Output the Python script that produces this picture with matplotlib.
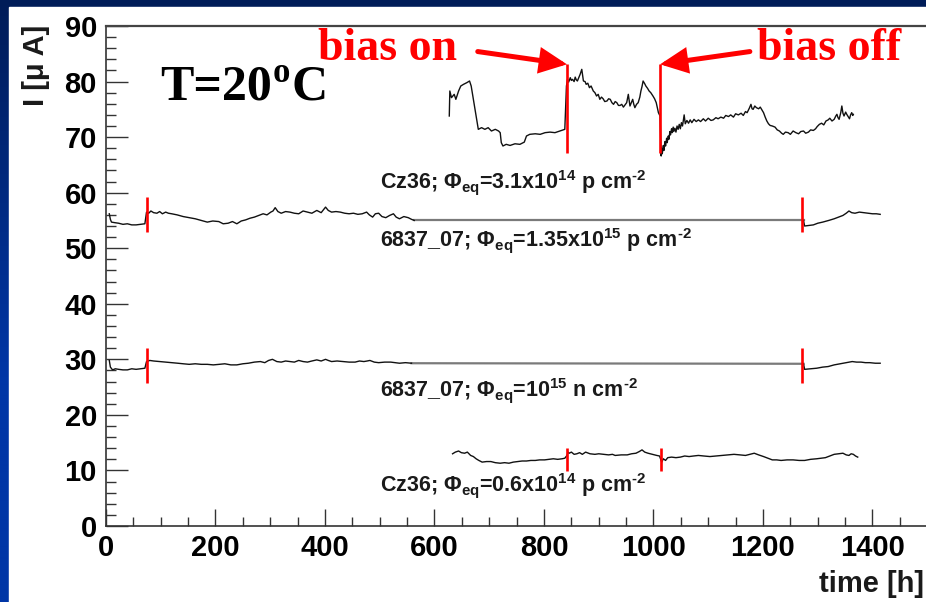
import numpy as np
import matplotlib
matplotlib.use("Agg")
import matplotlib.pyplot as plt
from matplotlib.patches import Rectangle
from matplotlib.ticker import MultipleLocator
from matplotlib.transforms import IdentityTransform

plt.rcParams["font.family"] = ["Liberation Sans", "DejaVu Sans"]
plt.rcParams["mathtext.default"] = "regular"

# ---------------------------------------------------------------- data
# Cz36, Phi_eq = 3.1e14 p/cm^2   (time [h], current [uA])
t_cz_hi = [627, 628, 631, 636, 639, 644, 648, 653, 659, 664,
           667, 671, 674, 677, 680, 686, 692, 698, 704, 711,
           717, 720, 722, 725, 731, 738, 747, 756, 764, 768,
           774, 784, 793, 802, 811, 820, 829, 838, 841,
           843, 845, 848, 850, 852, 855, 857, 859, 861, 863,
           866, 869, 872, 875, 877, 880, 883, 886, 890, 893,
           896, 899, 902, 905, 908, 911, 915, 918, 921, 924,
           927, 930, 933, 936, 939, 942, 945, 948, 951, 954,
           957, 960, 962, 964, 966, 969, 972, 975, 977, 979,
           981, 984, 986, 989, 992, 995, 999, 1002, 1005, 1007,
           1009, 1011, 1012,
           1014, 1015, 1016, 1018, 1019, 1021, 1022, 1024, 1025, 1027,
           1028, 1030, 1031, 1033, 1034, 1036, 1037, 1039, 1041, 1043,
           1045, 1047, 1049, 1051, 1053, 1056, 1058, 1061, 1064, 1067,
           1070, 1074, 1078, 1082, 1086, 1091, 1095, 1100, 1105, 1109,
           1114, 1118, 1123, 1128, 1132, 1137, 1141, 1146, 1150, 1155,
           1160, 1164, 1168, 1171, 1175, 1178, 1180, 1182, 1185, 1188,
           1192, 1195, 1198, 1201, 1204, 1207, 1210, 1213, 1217, 1222,
           1226, 1230, 1234, 1237, 1241, 1246, 1250, 1255, 1260, 1265,
           1269, 1274, 1278, 1283, 1287, 1292, 1296, 1299, 1303, 1307,
           1311, 1315, 1319, 1322, 1326, 1330, 1333, 1335, 1337, 1339,
           1342, 1344, 1346, 1348, 1351, 1353, 1356, 1358, 1360, 1362,
           1364, 1365]
i_cz_hi = [73.8, 78.3, 77.1, 77.7, 76.8, 78.3, 79.2, 79.5, 79.8, 80.1,
           79.2, 76.8, 75.0, 73.2, 71.4, 71.7, 71.4, 71.7, 71.1, 71.4,
           71.1, 70.8, 69.0, 68.4, 68.7, 68.5, 68.8, 68.7, 69.1, 70.2,
           70.5, 70.6, 70.5, 70.8, 70.9, 70.8, 71.1, 71.4, 79.2,
           80.4, 79.9, 80.7, 80.2, 80.4, 80.0, 80.8, 80.3, 80.1, 80.6,
           81.3, 82.2, 80.1, 80.0, 79.5, 79.7, 78.9, 79.2, 78.3, 78.0,
           77.4, 77.7, 76.8, 77.2, 76.9, 76.4, 76.5, 76.9, 76.8, 76.2,
           75.9, 76.4, 76.2, 75.7, 75.7, 75.9, 75.4, 75.8, 76.2, 77.7,
           75.6, 76.3, 76.8, 75.9, 75.3, 75.9, 76.2, 77.2, 78.3, 79.1,
           80.1, 79.6, 79.2, 78.8, 78.3, 78.0, 77.4, 76.9, 76.2, 75.3,
           74.4, 74.0, 73.8,
           66.6, 68.0, 67.0, 68.5, 67.6, 69.2, 68.4, 69.8, 69.0, 70.2,
           69.6, 71.0, 70.4, 71.5, 70.8, 71.8, 71.0, 71.6, 70.9, 72.0,
           71.4, 72.3, 71.5, 72.6, 72.0, 74.0, 72.4, 73.0, 72.5, 73.1,
           72.6, 73.2, 72.8, 73.1, 72.8, 73.3, 72.9, 73.4, 73.0, 73.1,
           73.5, 73.3, 73.6, 73.4, 73.9, 73.7, 74.0, 73.6, 74.2, 74.0,
           74.3, 73.9, 74.6, 74.4, 75.2, 75.9, 75.1, 75.0, 75.6, 75.3,
           75.1, 75.4, 74.9, 74.4, 73.6, 72.9, 72.4, 72.1, 72.0, 71.8,
           71.3, 71.1, 70.7, 70.5, 70.9, 70.8, 70.5, 71.1, 70.8, 70.6,
           71.0, 71.1, 70.7, 70.9, 71.3, 71.2, 71.5, 71.9, 72.3, 72.5,
           72.2, 72.9, 73.1, 73.4, 72.9, 73.2, 73.8, 74.1, 73.5, 73.2,
           74.4, 75.6, 74.3, 73.8, 74.5, 74.1, 73.6, 73.3, 74.0, 74.4,
           73.9, 74.1]

# 6837_07, Phi_eq = 1.35e15 p/cm^2
t_p135 = [6, 8, 10, 16, 23, 31, 39, 47, 55, 63, 71,
          74, 78, 82, 87, 93, 98, 103, 109, 114, 120,
          130, 141, 152, 163, 174, 185, 195, 206, 214, 223,
          231, 239, 247, 255, 263, 271, 279, 287, 294, 301,
          305, 309, 314, 320, 328, 336, 344, 352, 360, 368,
          376, 385, 393, 401, 406, 412, 420, 428, 436, 444,
          452, 460, 468, 476, 481, 487, 492, 498, 504, 511,
          518, 525, 530, 536, 544, 552, 558, 563,
          1274, 1276, 1284, 1292, 1300, 1309, 1320, 1330, 1338, 1346,
          1352, 1357, 1362, 1368, 1376, 1384, 1392, 1400, 1407, 1414]
i_p135 = [56.2, 55.2, 54.7, 54.6, 54.5, 54.3, 54.4, 54.2, 54.2, 54.3, 54.4,
          56.5, 56.3, 56.7, 56.4, 56.3, 56.6, 56.2, 56.5, 56.3, 56.2,
          56.0, 55.7, 55.5, 55.3, 55.0, 54.7, 54.9, 54.8, 54.4, 54.5,
          54.8, 54.4, 54.9, 55.1, 55.4, 55.6, 55.9, 56.2, 56.0, 56.5,
          56.7, 57.3, 56.6, 56.3, 56.6, 56.5, 56.3, 56.2, 56.7, 56.5,
          56.3, 56.8, 56.4, 57.4, 56.8, 56.5, 56.6, 56.5, 56.3, 56.2,
          56.3, 56.1, 56.2, 56.5, 56.0, 55.6, 56.2, 56.3, 55.7, 55.5,
          55.9, 56.2, 55.6, 55.3, 55.7, 55.5, 55.2, 55.0,
          55.0, 54.0, 54.1, 54.2, 54.5, 54.7, 55.0, 55.3, 55.6, 55.9,
          56.3, 56.7, 56.4, 56.3, 56.5, 56.4, 56.3, 56.2, 56.2, 56.1]

# 6837_07, Phi_eq = 1e15 n/cm^2
t_n1e15 = [6, 8, 12, 17, 23, 31, 39, 47, 55, 63, 71,
           74, 80, 87, 98, 109, 120, 131, 141, 152, 163,
           174, 185, 196, 207, 217, 228, 239, 250, 260, 271,
           282, 290, 297, 304, 312, 320, 328, 336, 344, 352,
           360, 368, 376, 385, 393, 401, 406, 412, 422, 433,
           444, 455, 463, 471, 477, 482, 490, 498, 509, 520,
           528, 536, 547, 558,
           1274, 1276, 1287, 1298, 1309, 1319, 1330, 1341, 1352, 1363,
           1371, 1379, 1387, 1395, 1405, 1414]
i_n1e15 = [29.8, 28.6, 28.1, 28.3, 28.2, 28.1, 28.1, 28.3, 28.2, 28.3, 28.4,
           29.6, 29.8, 29.7, 29.6, 29.5, 29.4, 29.3, 29.2, 29.1, 29.2,
           29.1, 29.1, 29.0, 29.1, 29.2, 29.0, 29.0, 29.2, 29.3, 29.5,
           29.6, 29.4, 29.8, 30.0, 29.6, 29.5, 29.7, 29.6, 29.5, 29.8,
           29.6, 29.5, 29.7, 29.9, 29.7, 30.0, 29.8, 29.6, 29.7, 29.6,
           29.5, 29.5, 29.7, 29.6, 29.7, 29.8, 29.5, 29.4, 29.5, 29.5,
           29.4, 29.3, 29.4, 29.3,
           29.2, 28.2, 28.3, 28.4, 28.6, 28.7, 29.0, 29.2, 29.4, 29.6,
           29.5, 29.5, 29.4, 29.4, 29.3, 29.3]

# Cz36, Phi_eq = 0.6e14 p/cm^2
t_cz_lo = [633, 638, 644, 649, 655, 660, 666, 671, 676, 681,
           687, 695, 703, 711, 720, 728, 736, 744, 752, 760,
           768, 776, 784, 792, 801, 809, 817, 825, 833, 838,
           842, 844, 846, 850, 855, 860, 865, 870, 876, 884,
           893, 900, 909, 918, 925, 930, 941, 952, 960, 968,
           974, 979, 984, 990, 998, 1006, 1011, 1015, 1018, 1022,
           1026, 1033, 1041, 1049, 1057, 1065, 1073, 1082, 1092, 1103,
           1114, 1125, 1136, 1147, 1158, 1168, 1176, 1184, 1192, 1201,
           1209, 1217, 1225, 1233, 1244, 1255, 1266, 1276, 1287, 1298,
           1306, 1314, 1322, 1330, 1338, 1346, 1352, 1357, 1361, 1365,
           1369, 1373]
i_cz_lo = [13.0, 13.3, 13.5, 13.2, 13.1, 13.3, 12.7, 12.5, 12.1, 11.8,
           11.5, 11.6, 11.6, 11.4, 11.3, 11.4, 11.3, 11.5, 11.6, 11.7,
           11.7, 11.8, 11.8, 11.9, 11.9, 12.0, 12.1, 12.0, 12.1, 12.2,
           12.7, 13.3, 13.1, 13.3, 12.9, 13.0, 13.2, 12.9, 13.3, 13.0,
           12.9, 13.0, 12.9, 12.8, 12.9, 12.7, 12.8, 12.8, 13.0, 13.1,
           13.4, 13.7, 13.3, 13.1, 12.9, 12.7, 12.6, 11.5, 12.1, 11.8,
           12.3, 12.4, 12.3, 12.4, 12.6, 12.5, 12.6, 12.7, 12.6, 12.5,
           12.6, 12.7, 12.8, 12.9, 12.8, 12.7, 12.9, 13.1, 12.8, 12.5,
           12.2, 11.9, 11.9, 11.8, 11.9, 11.9, 11.8, 11.8, 12.0, 12.1,
           12.2, 12.3, 12.6, 12.9, 13.0, 13.1, 12.8, 12.7, 13.0, 12.9,
           12.6, 12.4]

# bias switching times [h] and the current span each marker covers [uA]
marks_cz_hi = [842, 1012]
span_cz_hi = (67.2, 83.1)
marks_p135 = [74, 1272]
span_p135 = (52.9, 59.2)
marks_n1e15 = [74, 1272]
span_n1e15 = (25.8, 32.1)
marks_cz_lo = [842, 1014]
span_cz_lo = (9.9, 14.0)

labels = [
    "Cz36; $\\Phi_{eq}$=3.1x10$^{14}$ p cm$^{\u20102}$",
    "6837_07; $\\Phi_{eq}$=1.35x10$^{15}$ p cm$^{\u20102}$",
    "6837_07; $\\Phi_{eq}$=10$^{15}$ n cm$^{\u20102}$",
    "Cz36; $\\Phi_{eq}$=0.6x10$^{14}$ p cm$^{\u20102}$",
]
label_t = 500
label_i = [60.85, 50.4, 23.3, 6.2]

# ---------------------------------------------------------------- figure
W, H = 926, 602
fig = plt.figure(figsize=(W / 100, H / 100), dpi=100)

# slide-style background: blue frame with white panel
bg = fig.add_axes([0, 0, 1, 1], zorder=-10)
top_col = np.array([0x00, 0x1c, 0x58]) / 255
bot_col = np.array([0x00, 0x36, 0xa6]) / 255
f = np.linspace(0, 1, 256)[:, None]
f = np.clip(f * 1.6, 0, 1)
grad = (top_col[None, :] * (1 - f) + bot_col[None, :] * f)[:, None, :]
bg.imshow(grad, aspect="auto", extent=[0, 1, 0, 1], origin="upper")
bg.add_patch(Rectangle((9 / W, 0), 1, 1 - 7 / H, color="white", zorder=2))
bg.set_xlim(0, 1)
bg.set_ylim(0, 1)
bg.axis("off")

ax_left, ax_bottom = 106 / W, 1 - 526 / H
ax_w, ax_h = 821.25 / W, 500 / H
ax = fig.add_axes([ax_left, ax_bottom, ax_w, ax_h])
ax.set_xlim(0, 1500)
ax.set_ylim(0, 90)
ax.patch.set_alpha(0)

ax.spines["right"].set_visible(False)
ax.spines["top"].set_color("#444444")
ax.spines["top"].set_linewidth(1.6)
ax.spines["left"].set_color("#333333")
ax.spines["left"].set_linewidth(1.2)
ax.spines["bottom"].set_color("#333333")
ax.spines["bottom"].set_linewidth(1.2)

ax.xaxis.set_major_locator(MultipleLocator(200))
ax.xaxis.set_minor_locator(MultipleLocator(50))
ax.yaxis.set_major_locator(MultipleLocator(10))
ax.yaxis.set_minor_locator(MultipleLocator(2))
ax.tick_params(axis="x", which="major", direction="in", length=12.5, width=1.0,
               color="#333333", pad=6, labelsize=21)
ax.tick_params(axis="x", which="minor", direction="in", length=6.5, width=1.0,
               color="#333333")
ax.tick_params(axis="y", which="major", direction="in", length=16, width=1.0,
               color="#333333", pad=6.5, labelsize=21)
ax.tick_params(axis="y", which="minor", direction="in", length=7, width=1.0,
               color="#333333")
for lab in ax.get_xticklabels() + ax.get_yticklabels():
    lab.set_fontweight("bold")


def draw_trace(t, cur):
    """Black trace; long stretches without readings are bridged by a grey line."""
    t = np.asarray(t, float)
    cur = np.asarray(cur, float)
    breaks = np.where(np.diff(t) > 100)[0]
    start = 0
    for b in breaks:
        ax.plot(t[start:b + 1], cur[start:b + 1], color="#111111", lw=1.0, zorder=3)
        ax.plot(t[b:b + 2], cur[b:b + 2], color="#7a7a7a", lw=1.6, zorder=2)
        start = b + 1
    ax.plot(t[start:], cur[start:], color="#111111", lw=1.0, zorder=3)


draw_trace(t_cz_hi, i_cz_hi)
draw_trace(t_p135, i_p135)
draw_trace(t_n1e15, i_n1e15)
draw_trace(t_cz_lo, i_cz_lo)

for marks, span in ((marks_cz_hi, span_cz_hi), (marks_p135, span_p135),
                    (marks_n1e15, span_n1e15), (marks_cz_lo, span_cz_lo)):
    ax.vlines(marks, span[0], span[1], colors="#ff0000", lw=1.9, zorder=4)

for txt, yi in zip(labels, label_i):
    ax.text(label_t, yi, txt, fontsize=15.5, fontweight="bold", color="#1a1a1a",
            ha="left", va="baseline")

# axis titles
ax.set_ylabel("I [\u03bc A]", fontsize=21, fontweight="bold", color="#1a1a1a")
ax.yaxis.label.set_rotation_mode("default")
ax.yaxis.label.set_ha("center")
ax.yaxis.label.set_va("top")
ax.yaxis.set_label_coords((36 - 106) / 821.25, 1.002)
ax.set_xlabel("time [h]", fontsize=21, fontweight="bold", color="#1a1a1a")
ax.xaxis.label.set_ha("right")
ax.xaxis.label.set_va("baseline")
ax.xaxis.set_label_coords((924 - 106) / 821.25, -(592 - 526) / 500)

# bias on / bias off annotations
serif = ["Liberation Serif", "DejaVu Serif"]
ax.text(387, 83.96, "bias on", family=serif, fontweight="bold", fontsize=33,
        color="#ff0000", ha="left", va="baseline")
ax.text(1189, 83.96, "bias off", family=serif, fontweight="bold", fontsize=33,
        color="#ff0000", ha="left", va="baseline")
arrow = dict(arrowstyle="-|>,head_length=0.36,head_width=0.17", color="#ff0000",
             lw=3.6, shrinkA=0, shrinkB=0, mutation_scale=40, joinstyle="miter")
ax.annotate("", xy=(marks_cz_hi[0], span_cz_hi[1]), xytext=(679, 85.4),
            arrowprops=arrow)
ax.annotate("", xy=(marks_cz_hi[1], span_cz_hi[1]), xytext=(1176, 85.4),
            arrowprops=arrow)

# temperature tag
t_main = ax.text(99, 76.8, "T=20", family=serif, fontweight="bold", fontsize=36,
                 color="black", ha="left", va="baseline")
fig.canvas.draw()
rend = fig.canvas.get_renderer()
bb = t_main.get_window_extent(rend)
_, yb = ax.transData.transform((99, 76.8))
t_o = ax.text(bb.x1 + 1, yb + 17, "o", family=serif, fontweight="bold", fontsize=25,
              color="black", ha="left", va="baseline", transform=IdentityTransform())
bo = t_o.get_window_extent(rend)
ax.text(bo.x1 + 1, yb, "C", family=serif, fontweight="bold", fontsize=36,
        color="black", ha="left", va="baseline", transform=IdentityTransform())

fig.savefig("out.png", dpi=100)
